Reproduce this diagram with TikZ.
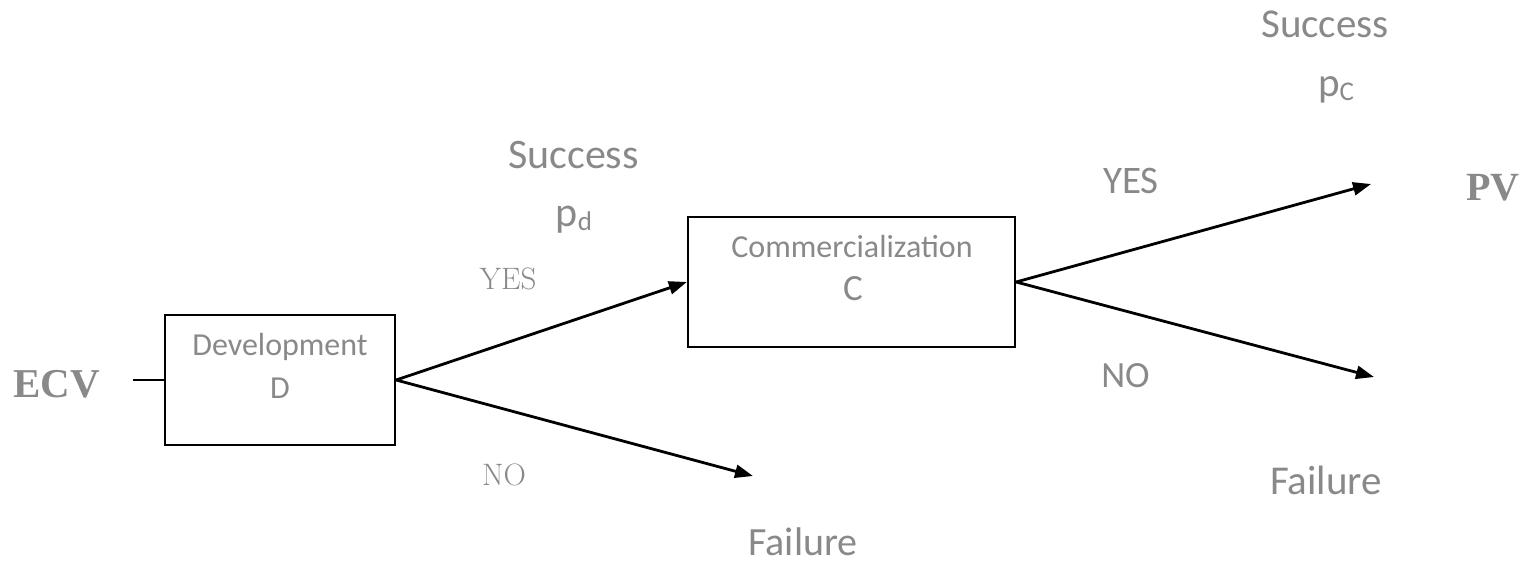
\documentclass[tikz,border=0pt]{standalone}
\usepackage{fontspec}
\usetikzlibrary{arrows.meta}
\newfontfamily\carlito{Carlito}
\newfontfamily\serifbold{Liberation Serif}
\newfontfamily\lmroman{Latin Modern Roman}
\definecolor{txtgray}{RGB}{137,137,137}
\newcommand{\fs}[1]{\fontsize{#1}{#1}\selectfont}
\tikzset{
  stage/.style={draw=black, line width=2.3pt, inner sep=0pt, rectangle},
  branch/.style={line width=2.8pt, -{Triangle[length=18pt,width=13pt]}},
  lbl/.style={text=txtgray, inner sep=0pt, anchor=base},
}
\begin{document}
\begin{tikzpicture}[x=1pt,y=-1pt]
\useasboundingbox (0,0) rectangle (1527,565);

% decision stages
\node[stage, minimum width=230pt, minimum height=130pt] (D) at (280,380) {};
\node[stage, minimum width=327pt, minimum height=130pt] (C) at (851.5,282) {};

% stage labels
\node[lbl, font=\carlito\fs{32}] (dname) at (280,355) {Development};
\node[lbl, font=\carlito\fs{32}] (dlet) at (280,398) {D};
\node[lbl, font=\carlito\fs{32}] (cname) at (852,257) {Commercialization};
\node[lbl, font=\carlito\fs{37}] (clet) at (853,300) {C};

% end points of branches
\coordinate (dfail) at (753,476);
\coordinate (cyes) at (1371,184);
\coordinate (cno) at (1374,377);
\coordinate (ecvend) at (133,380);

% values
\node[lbl, font=\serifbold\bfseries\fs{41}] (ecv) at (56.5,397) {ECV};
\node[lbl, font=\serifbold\bfseries\fs{40}] (pv) at (1493,200) {PV};

% connectors
\draw[line width=2.2pt] (ecvend) -- (D.west);
\draw[branch] (D.east) -- (C.west);
\draw[branch] (D.east) -- (dfail);
\draw[branch] (C.east) -- (cyes);
\draw[branch] (C.east) -- (cno);

% branch labels, development stage
\node[lbl, font=\carlito\fs{42}] (sd) at (573.5,168) {Success};
\node[lbl, font=\carlito\fs{42}] (pd) at (574,226) {p{\fs{27}\raisebox{-4pt}{d}}};
\node[lbl, font=\lmroman\fs{31}] (yd) at (508,289) {YES};
\node[lbl, font=\lmroman\fs{31}] (nd) at (504,485) {NO};
\node[lbl, font=\carlito\fs{40}] (fd) at (803,555) {Failure};

% branch labels, commercialization stage
\node[lbl, font=\carlito\fs{41}] (sc) at (1325,37) {Success};
\node[lbl, font=\carlito\fs{41}] (pc) at (1336,96) {p{\fs{27}\raisebox{-4pt}{C}}};
\node[lbl, font=\carlito\fs{39}] (yc) at (1131,193) {YES};
\node[lbl, font=\carlito\fs{37}] (nc) at (1125.5,387) {NO};
\node[lbl, font=\carlito\fs{41}] (fc) at (1326,494) {Failure};
\end{tikzpicture}
\end{document}
